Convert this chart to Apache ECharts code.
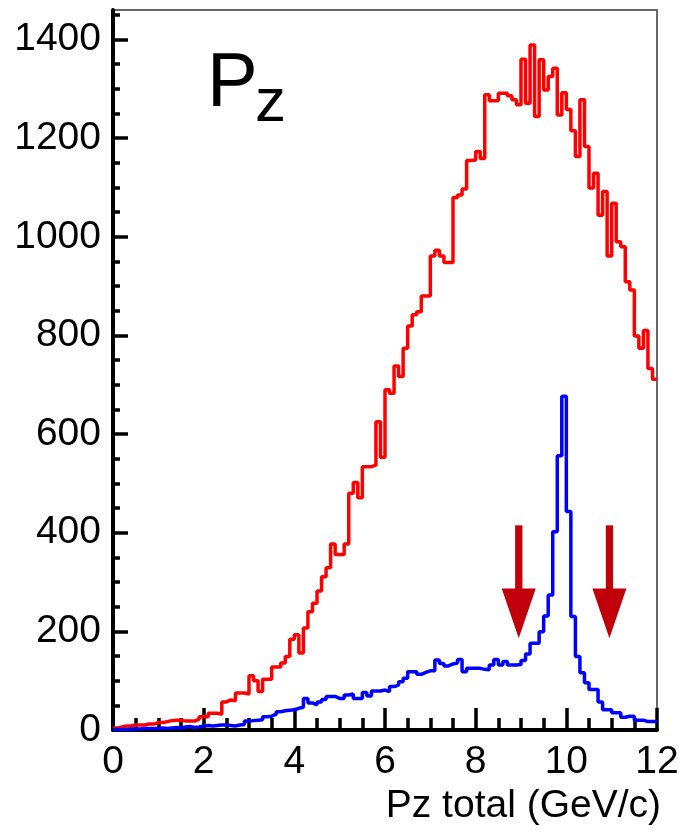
<!DOCTYPE html>
<html>
<head>
<meta charset="utf-8">
<script src="https://cdn.jsdelivr.net/npm/echarts@6/dist/echarts.min.js"></script>
<style>
  html, body { margin: 0; padding: 0; background: #fff; }
  #chart { width: 689px; height: 836px; }
</style>
</head>
<body>
<div id="chart"></div>
<script>
// Histogram binning: 120 bins of 0.1 GeV/c from 0 to 12
const binLow = 0;
const binWidth = 0.1;

// All events (red)
const allCounts = [
  4, 6, 8, 8, 10, 10, 10, 12, 12, 15,
  15, 17, 19, 20, 20, 18, 18, 18, 22, 27,
  27, 34, 34, 32, 57, 61, 59, 75, 75, 73,
  110, 100, 78, 103, 103, 128, 128, 136, 149, 184,
  193, 156, 207, 240, 257, 282, 311, 329, 377, 356,
  356, 377, 480, 502, 471, 534, 534, 537, 625, 553,
  690, 683, 738, 717, 774, 819, 842, 848, 880, 880,
  961, 973, 961, 948, 948, 1080, 1085, 1097, 1155, 1156,
  1173, 1159, 1288, 1276, 1276, 1291, 1291, 1286, 1278, 1268,
  1360, 1271, 1389, 1244, 1359, 1298, 1325, 1342, 1247, 1292,
  1258, 1215, 1163, 1278, 1183, 1099, 1129, 1044, 1092, 961,
  1068, 990, 980, 909, 892, 799, 774, 810, 733, 711
];

// Selected events (blue)
const selCounts = [
  1, 1, 1, 2, 2, 2, 3, 3, 3, 3,
  4, 3, 4, 5, 4, 6, 7, 5, 6, 8,
  9, 8, 9, 10, 10, 9, 8, 10, 11, 18,
  19, 20, 21, 27, 28, 32, 37, 39, 40, 41,
  44, 46, 64, 55, 51, 57, 62, 68, 68, 64,
  64, 71, 73, 64, 64, 76, 69, 79, 79, 81,
  78, 88, 91, 98, 105, 118, 118, 113, 117, 120,
  120, 142, 135, 130, 134, 136, 143, 118, 125, 125,
  125, 123, 122, 132, 143, 132, 139, 132, 132, 133,
  141, 154, 176, 176, 199, 231, 274, 402, 556, 677,
  443, 230, 149, 116, 96, 82, 82, 57, 41, 41,
  35, 35, 26, 28, 28, 20, 20, 17, 17, 17
];

// Cut markers
const arrowX = [8.95, 10.95];
const arrowShaftTop = 415;
const arrowHeadBase = 287;
const arrowTip = 186;

// Axis ticks
const xMajorTicks = [0, 2, 4, 6, 8, 10, 12];
const xMinorTicks = [0.5, 1, 1.5, 2.5, 3, 3.5, 4.5, 5, 5.5, 6.5, 7, 7.5,
                     8.5, 9, 9.5, 10.5, 11, 11.5];
const yMajorTicks = [0, 200, 400, 600, 800, 1000, 1200, 1400];
const yMinorTicks = [50, 100, 150, 250, 300, 350, 450, 500, 550, 650, 700, 750,
                     850, 900, 950, 1050, 1100, 1150, 1250, 1300, 1350, 1450];

const FONT = 'Liberation Sans';

// Step outline: one point at each bin's low edge, plus the last upper edge
function histSteps(counts) {
  const pts = counts.map((v, i) => [binLow + i * binWidth, v]);
  pts.push([binLow + counts.length * binWidth, counts[counts.length - 1]]);
  return pts;
}

function tickLine() { return { color: '#000', width: 3.5 }; }

const chart = echarts.init(document.getElementById('chart'), null, { renderer: 'canvas' });

chart.setOption({
  animation: false,
  backgroundColor: '#fff',
  grid: {
    left: 113, right: 32, top: 10, bottom: 106,
    show: true, borderColor: '#666', borderWidth: 2, backgroundColor: 'transparent'
  },
  xAxis: [
    {
      type: 'value', min: 0, max: 12, interval: 2, position: 'bottom',
      axisLine: { show: true, onZero: false, lineStyle: { color: '#000', width: 4 } },
      axisTick: { show: true, inside: true, length: 22, lineStyle: tickLine(), customValues: xMajorTicks },
      minorTick: { show: false },
      splitLine: { show: false },
      axisLabel: {
        fontSize: 39, color: '#000', fontFamily: FONT, margin: 13,
        customValues: xMajorTicks,
        formatter: v => String(v)
      }
    },
    {
      // minor ticks of the bottom axis
      type: 'value', min: 0, max: 12, position: 'bottom', offset: 0,
      axisLine: { show: false, onZero: false },
      axisTick: { show: true, inside: true, length: 12, lineStyle: tickLine(), customValues: xMinorTicks },
      splitLine: { show: false },
      axisLabel: { show: false }
    }
  ],
  yAxis: [
    {
      type: 'value', min: 0, max: 1460, interval: 200, position: 'left',
      axisLine: { show: true, onZero: false, lineStyle: { color: '#000', width: 4 } },
      axisTick: { show: true, inside: true, length: 15, lineStyle: tickLine(), customValues: yMajorTicks },
      splitLine: { show: false },
      axisLabel: {
        fontSize: 39, color: '#000', fontFamily: FONT, margin: 12,
        customValues: yMajorTicks,
        formatter: v => String(v)
      }
    },
    {
      // minor ticks of the left axis
      type: 'value', min: 0, max: 1460, position: 'left', offset: 0,
      axisLine: { show: false, onZero: false },
      axisTick: { show: true, inside: true, length: 7, lineStyle: tickLine(), customValues: yMinorTicks },
      splitLine: { show: false },
      axisLabel: { show: false }
    }
  ],
  series: [
    {
      name: 'all', type: 'line', step: 'end', symbol: 'none',
      xAxisIndex: 0, yAxisIndex: 0,
      data: histSteps(allCounts),
      lineStyle: { color: '#ff0000', width: 3.5 },
      z: 3
    },
    {
      name: 'selected', type: 'line', step: 'end', symbol: 'none',
      xAxisIndex: 0, yAxisIndex: 0,
      data: histSteps(selCounts),
      lineStyle: { color: '#0000ff', width: 3.5 },
      z: 4
    },
    {
      name: 'cuts', type: 'custom', z: 5,
      xAxisIndex: 0, yAxisIndex: 0,
      data: arrowX.map(x => [x, arrowTip]),
      encode: { x: 0, y: 1 },
      renderItem: function (params, api) {
        const x = api.value(0);
        const top = api.coord([x, arrowShaftTop]);
        const base = api.coord([x, arrowHeadBase]);
        const tip = api.coord([x, arrowTip]);
        const fill = '#c0000b';
        return {
          type: 'group',
          children: [
            { type: 'rect', shape: { x: top[0] - 3.6, y: top[1], width: 7.3, height: base[1] - top[1] + 1 }, style: { fill } },
            { type: 'polygon', shape: { points: [[base[0] - 17, base[1]], [base[0] + 17, base[1]], [tip[0], tip[1]]] }, style: { fill } }
          ]
        };
      }
    }
  ],
  graphic: [
    { type: 'text', left: 207, top: 47, style: { text: 'P', fontSize: 76, fontFamily: FONT, fill: '#000' } },
    { type: 'text', left: 255, top: 73, style: { text: 'z', fontSize: 62, fontFamily: FONT, fill: '#000' } },
    { type: 'text', right: 28, top: 787, style: { text: 'Pz total (GeV/c)', fontSize: 39, fontFamily: FONT, fill: '#000' } }
  ]
});
</script>
</body>
</html>
